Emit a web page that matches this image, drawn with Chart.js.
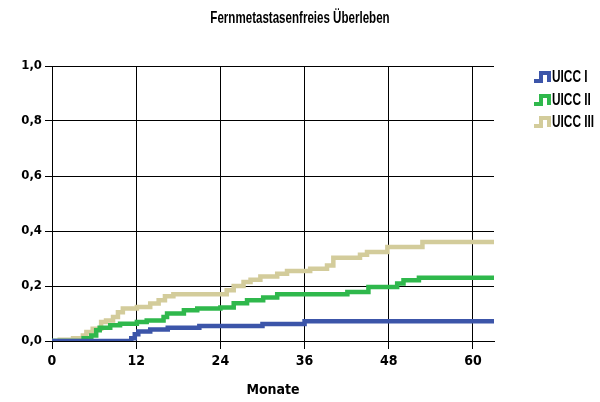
<!DOCTYPE html>
<html>
<head>
<meta charset="utf-8">
<script src="https://cdn.jsdelivr.net/npm/chart.js@4"></script>
<style>
    html, body { margin: 0; padding: 0; background: #fff; }
    #wrap { width: 600px; height: 402px; }
</style>
</head>
<body>
<div id="wrap"><canvas id="kmChart"></canvas></div>
<script>
// Data
const seriesLabels = ['UICC I', 'UICC II', 'UICC III'];
const seriesColors = ['#3c55a9', '#2fb84c', '#d3cc9b'];

const monthsI = [0, 11.3, 11.8, 12.3, 14, 16.5, 21, 30, 36, 63];
const valuesI = [0, 0.01, 0.025, 0.035, 0.042, 0.048, 0.055, 0.062, 0.072, 0.072];

const monthsII = [0, 4.5, 5.6, 6.3, 6.8, 8.3, 9.7, 12.1, 13.5, 15.9, 16.4, 18.8, 20.7, 24, 25.9, 27.8, 30.1, 32.1, 42.1, 45.1, 49.2, 50.1, 52.3, 63];
const valuesII = [0, 0.01, 0.02, 0.039, 0.048, 0.057, 0.063, 0.069, 0.075, 0.087, 0.1, 0.112, 0.118, 0.122, 0.137, 0.148, 0.158, 0.17, 0.178, 0.196, 0.209, 0.221, 0.23, 0.23];

const monthsIII = [0, 1.1, 3.0, 4.4, 4.9, 5.8, 7.0, 7.7, 8.7, 9.4, 10.1, 12.1, 14.0, 15.2, 16.1, 17.3, 24.9, 25.9, 27.3, 28.3, 29.7, 32.1, 33.5, 36.8, 39.2, 40.1, 43.9, 44.9, 47.8, 52.8, 63];
const valuesIII = [0, 0.005, 0.01, 0.02, 0.033, 0.045, 0.069, 0.075, 0.087, 0.105, 0.118, 0.124, 0.136, 0.148, 0.163, 0.17, 0.185, 0.2, 0.215, 0.223, 0.235, 0.245, 0.255, 0.263, 0.275, 0.303, 0.314, 0.324, 0.342, 0.36, 0.36];

const xTicks = [0, 12, 24, 36, 48, 60];
const yTicks = [0, 0.2, 0.4, 0.6, 0.8, 1.0];
const yTickLabels = ['0,0', '0,2', '0,4', '0,6', '0,8', '1,0'];

const chartTitle = 'Fernmetastasenfreies Überleben';
const xTitle = 'Monate';

const TICK_FONT = "'DejaVu Sans Condensed', 'Liberation Sans', Arial, sans-serif";
const TEXT_FONT = "'Liberation Sans', Arial, sans-serif";

function toPoints(months, values) {
    return months.map((m, i) => ({ x: m, y: values[i] }));
}

const allMonths = [monthsI, monthsII, monthsIII];
const allValues = [valuesI, valuesII, valuesIII];

const datasets = seriesLabels.map((label, i) => ({
    label: label,
    data: toPoints(allMonths[i], allValues[i]),
    borderColor: seriesColors[i],
    borderWidth: 4.5,
    stepped: 'before',
    pointRadius: 0,
    fill: false
}));

// draw narrow text by squeezing the canvas horizontally
function narrowText(ctx, text, x, y, squeeze, align) {
    ctx.save();
    ctx.translate(x, y);
    ctx.scale(squeeze, 1);
    ctx.textAlign = align;
    ctx.fillText(text, 0, 0);
    ctx.restore();
}

// Title and legend drawn on the canvas
const decorPlugin = {
    id: 'decor',
    afterDraw(chart) {
        const ctx = chart.ctx;
        ctx.save();
        ctx.fillStyle = '#000';
        ctx.textBaseline = 'middle';
        ctx.font = 'bold 17px ' + TEXT_FONT;
        narrowText(ctx, chartTitle, 300, 18, 0.68, 'center');

        ctx.font = 'bold 16px ' + TEXT_FONT;
        const rows = [77, 100, 122];
        chart.data.datasets.forEach((ds, i) => {
            const x = 534, y = rows[i];
            ctx.strokeStyle = ds.borderColor;
            ctx.lineWidth = 4;
            ctx.beginPath();
            ctx.moveTo(x, y + 4);
            ctx.lineTo(x + 7, y + 4);
            ctx.lineTo(x + 7, y - 4);
            ctx.lineTo(x + 15, y - 4);
            ctx.lineTo(x + 15, y + 5);
            ctx.stroke();
            ctx.fillStyle = '#000';
            narrowText(ctx, ds.label, x + 18, y + 1, 0.74, 'left');
        });
        ctx.restore();
    }
};

new Chart(document.getElementById('kmChart'), {
    type: 'line',
    data: { datasets: datasets },
    plugins: [decorPlugin],
    options: {
        responsive: true,
        maintainAspectRatio: false,
        animation: false,
        layout: { padding: { left: 0, right: 106, top: 66, bottom: 0 } },
        plugins: {
            legend: { display: false },
            title: { display: false },
            tooltip: { enabled: false }
        },
        scales: {
            x: {
                type: 'linear',
                min: 0,
                max: 63,
                afterFit(scale) { scale.height = 61; },
                afterBuildTicks(scale) { scale.ticks = xTicks.map(v => ({ value: v })); },
                grid: { color: '#000', lineWidth: 1, tickLength: 8, drawTicks: true },
                border: { color: '#000', width: 1 },
                ticks: {
                    color: '#000',
                    font: { family: TICK_FONT, size: 14, weight: 'bold' },
                    padding: 4,
                    maxRotation: 0,
                    autoSkip: false
                },
                title: {
                    display: true,
                    text: xTitle,
                    color: '#000',
                    font: { family: TICK_FONT, size: 14, weight: 'bold' },
                    padding: { top: 4, bottom: 3 }
                }
            },
            y: {
                type: 'linear',
                min: 0,
                max: 1,
                afterFit(scale) { scale.width = 52; },
                afterBuildTicks(scale) { scale.ticks = yTicks.map(v => ({ value: v })); },
                grid: { color: '#000', lineWidth: 1, tickLength: 7, drawTicks: true },
                border: { color: '#000', width: 1 },
                ticks: {
                    color: '#000',
                    font: { family: TICK_FONT, size: 13, weight: 'bold' },
                    padding: 3,
                    autoSkip: false,
                    callback: (value) => {
                        const idx = yTicks.findIndex(t => Math.abs(t - value) < 1e-6);
                        return idx >= 0 ? yTickLabels[idx] : '';
                    }
                }
            }
        }
    }
});
</script>
</body>
</html>
